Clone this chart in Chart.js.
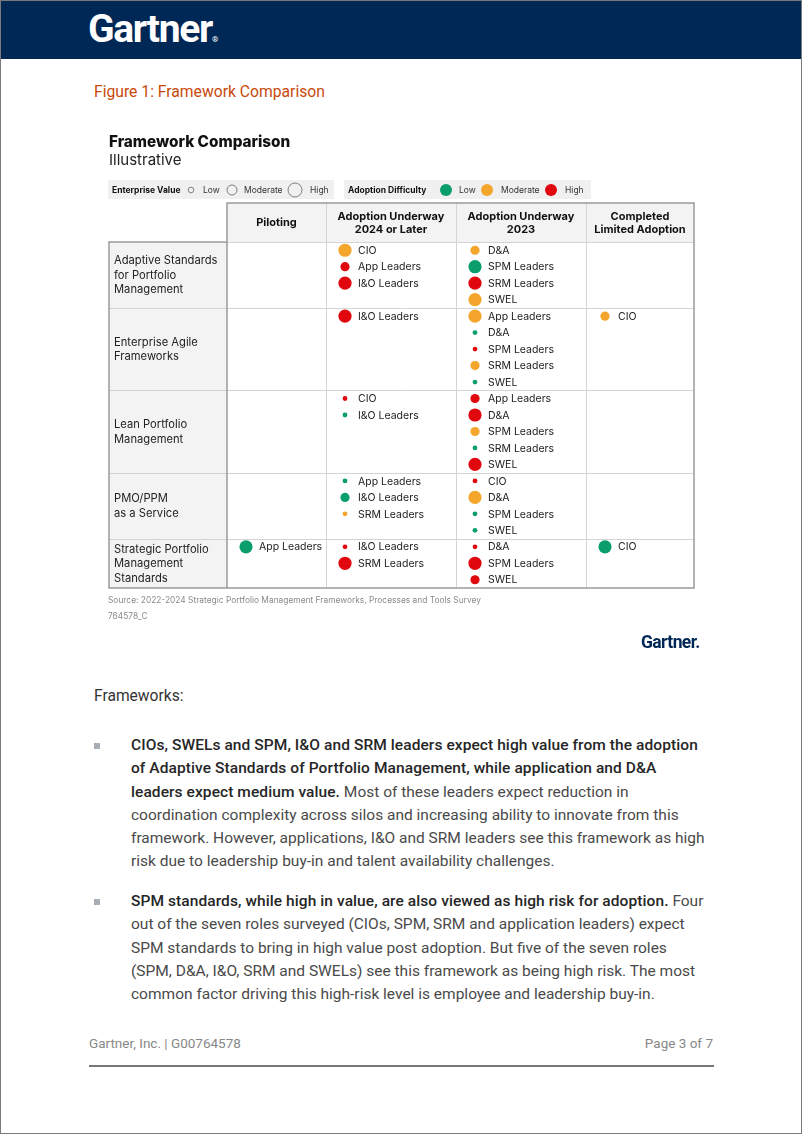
<!DOCTYPE html>
<html>
<head>
<meta charset="utf-8">
<script src="https://cdn.jsdelivr.net/npm/chart.js@4.4.1/dist/chart.umd.min.js"></script>
<style>
  html, body { margin: 0; padding: 0; background: #fff; }
  #page {
    position: relative; width: 802px; height: 1134px; box-sizing: border-box;
    border: 1px solid #7a7a7a; overflow: hidden; font-family: Roboto, sans-serif;
  }
  #band { position: absolute; left: 0; top: 0; width: 100%; height: 58px; background: #002856; }
  #logo {
    position: absolute; left: 87px; top: 5px; color: #fff; font: 700 39px Roboto, sans-serif;
    letter-spacing: -1.3px;
  }
  #logo span { font-size: 8px; letter-spacing: 0; }
  #caption { position: absolute; left: 93px; top: 81px; color: #c9490c; font-size: 15.7px; }
  #chartBox { position: absolute; left: 100px; top: 125px; }
  #logo2 {
    position: absolute; left: 640px; top: 631px; color: #002856; font: 700 17.5px Roboto, sans-serif;
    letter-spacing: -0.6px;
  }
  #fw { position: absolute; left: 93px; top: 686px; color: #333; font-size: 15.6px; }
  .bullet { position: absolute; left: 130px; width: 600px; font-size: 15.5px; line-height: 23.3px; color: #4a4a4a; }
  .bullet b { font-weight: 500; color: #262626; letter-spacing: 0.08px; }
  .sq { position: absolute; left: 93px; width: 6px; height: 6px; background: #a9adb4; }
  #foot1 { position: absolute; left: 88px; top: 1034px; color: #888; font-size: 13.5px; }
  #foot2 { position: absolute; right: 88px; top: 1034px; color: #888; font-size: 13.5px; }
  #rule { position: absolute; left: 88px; top: 1064px; width: 625px; height: 2px; background: #777; }
</style>
</head>
<body>
<div id="page">
  <div id="band"></div>
  <div id="logo">Gartner<span>®</span></div>
  <div id="caption">Figure 1: Framework Comparison</div>
  <div id="chartBox"><canvas id="grafica" width="605" height="530"></canvas></div>
  <div id="logo2">Gartner.</div>
  <div id="fw">Frameworks:</div>

  <div class="sq" style="top:742px"></div>
  <div class="bullet" style="top:733px">
    <b>CIOs, SWELs and SPM, I&amp;O and SRM leaders expect high value from the adoption<br>
    of Adaptive Standards of Portfolio Management, while application and D&amp;A<br>
    leaders expect medium value.</b> Most of these leaders expect reduction in<br>
    coordination complexity across silos and increasing ability to innovate from this<br>
    framework. However, applications, I&amp;O and SRM leaders see this framework as high<br>
    risk due to leadership buy-in and talent availability challenges.
  </div>

  <div class="sq" style="top:898px"></div>
  <div class="bullet" style="top:889px">
    <b>SPM standards, while high in value, are also viewed as high risk for adoption.</b> Four<br>
    out of the seven roles surveyed (CIOs, SPM, SRM and application leaders) expect<br>
    SPM standards to bring in high value post adoption. But five of the seven roles<br>
    (SPM, D&amp;A, I&amp;O, SRM and SWELs) see this framework as being high risk. The most<br>
    common factor driving this high-risk level is employee and leadership buy-in.
  </div>

  <div id="foot1">Gartner, Inc. | G00764578</div>
  <div id="foot2">Page 3 of 7</div>
  <div id="rule"></div>
</div>

<script>
// datos
const frameworks = [
  ["Adaptive Standards", "for Portfolio", "Management"],
  ["Enterprise Agile", "Frameworks"],
  ["Lean Portfolio", "Management"],
  ["PMO/PPM", "as a Service"],
  ["Strategic Portfolio", "Management", "Standards"]
];
const stages = [
  ["Piloting"],
  ["Adoption Underway", "2024 or Later"],
  ["Adoption Underway", "2023"],
  ["Completed", "Limited Adoption"]
];
const valueLevels = ["Low", "Moderate", "High"];
const difficultyLevels = ["Low", "Moderate", "High"];

// framework, stage, role, enterprise value, adoption difficulty
const responses = [
  [0, 1, "CIO", "High", "Moderate"],
  [0, 1, "App Leaders", "Moderate", "High"],
  [0, 1, "I&O Leaders", "High", "High"],
  [0, 2, "D&A", "Moderate", "Moderate"],
  [0, 2, "SPM Leaders", "High", "Low"],
  [0, 2, "SRM Leaders", "High", "High"],
  [0, 2, "SWEL", "High", "Moderate"],
  [1, 1, "I&O Leaders", "High", "High"],
  [1, 2, "App Leaders", "High", "Moderate"],
  [1, 2, "D&A", "Low", "Low"],
  [1, 2, "SPM Leaders", "Low", "High"],
  [1, 2, "SRM Leaders", "Moderate", "Moderate"],
  [1, 2, "SWEL", "Low", "Low"],
  [1, 3, "CIO", "Moderate", "Moderate"],
  [2, 1, "CIO", "Low", "High"],
  [2, 1, "I&O Leaders", "Low", "Low"],
  [2, 2, "App Leaders", "Moderate", "High"],
  [2, 2, "D&A", "High", "High"],
  [2, 2, "SPM Leaders", "Moderate", "Moderate"],
  [2, 2, "SRM Leaders", "Low", "Low"],
  [2, 2, "SWEL", "High", "High"],
  [3, 1, "App Leaders", "Low", "Low"],
  [3, 1, "I&O Leaders", "Moderate", "Low"],
  [3, 1, "SRM Leaders", "Low", "Moderate"],
  [3, 2, "CIO", "Low", "High"],
  [3, 2, "D&A", "High", "Moderate"],
  [3, 2, "SPM Leaders", "Low", "Low"],
  [3, 2, "SWEL", "Low", "Low"],
  [4, 0, "App Leaders", "High", "Low"],
  [4, 1, "I&O Leaders", "Low", "High"],
  [4, 1, "SRM Leaders", "High", "High"],
  [4, 2, "D&A", "Low", "High"],
  [4, 2, "SPM Leaders", "High", "High"],
  [4, 2, "SWEL", "Moderate", "High"],
  [4, 3, "CIO", "High", "Low"]
];

// estilo y disposición
const difficultyColors = ["#0a9e6c", "#f3a62b", "#e0070f"];
const valueRadius = [2.4, 4.6, 6.6];
const colWidths = [99, 130, 130, 108];
const bubbleInset = 19;
const labelColW = 118;
const headerH = 39;
const FONT = "Inter, 'Noto Sans', sans-serif";

// filas: cada fila tan alta como su celda más llena
const cellCount = {};
responses.forEach(r => {
  const k = r[0] + "-" + r[1];
  cellCount[k] = (cellCount[k] || 0) + 1;
});
const rowLines = frameworks.map((f, i) =>
  Math.max(...stages.map((s, j) => cellCount[i + "-" + j] || 0)));
const rowStart = [];
rowLines.reduce((acc, n, i) => { rowStart[i] = acc; return acc + n; }, 0);
const totalLines = rowLines.reduce((a, b) => a + b, 0);
const colStart = [];
colWidths.reduce((acc, w, i) => { colStart[i] = acc; return acc + w; }, 0);
const totalWidth = colWidths.reduce((a, b) => a + b, 0);

const slot = {};
const datasets = difficultyLevels.map((d, di) => ({
  label: d,
  data: [],
  backgroundColor: difficultyColors[di],
  borderWidth: 0,
  hoverRadius: 0
}));
responses.forEach(([f, s, role, val, diff]) => {
  const k = f + "-" + s;
  const idx = slot[k] || 0;
  slot[k] = idx + 1;
  datasets[difficultyLevels.indexOf(diff)].data.push({
    x: colStart[s] + bubbleInset,
    y: rowStart[f] + idx + 0.5,
    r: valueRadius[valueLevels.indexOf(val)],
    role: role
  });
});

const tablePlugin = {
  id: "tabla",
  beforeDatasetsDraw(chart) {
    const { ctx, chartArea: ca, scales } = chart;
    const xs = scales.x, ys = scales.y;
    const L = ca.left - labelColW, T = ca.top - headerH;
    ctx.save();

    // título
    ctx.fillStyle = "#111";
    ctx.textBaseline = "alphabetic";
    ctx.font = "800 15.3px " + FONT;
    ctx.fillText("Framework Comparison", L, 21);
    ctx.font = "400 15px " + FONT;
    ctx.fillStyle = "#222";
    ctx.fillText("Illustrative", L, 39);

    // leyenda (posiciones fijas como en el original)
    const ly = 64;
    ctx.fillStyle = "#f0f0f0";
    ctx.fillRect(L - 1, 54, 226, 19);
    ctx.fillRect(L + 235, 54, 247, 19);
    ctx.textBaseline = "middle";
    ctx.font = "700 8.5px " + FONT;
    ctx.fillStyle = "#111";
    ctx.fillText("Enterprise Value", L + 3, ly);
    ctx.fillText("Adoption Difficulty", L + 239, ly);
    const valPos = [[82, 94], [123, 135], [186, 201]];
    valueLevels.forEach((v, i) => {
      ctx.beginPath();
      ctx.arc(L + valPos[i][0], ly, valueRadius[i] + 0.4, 0, Math.PI * 2);
      ctx.strokeStyle = "#666";
      ctx.lineWidth = 0.8;
      ctx.stroke();
      ctx.font = "400 8.5px " + FONT;
      ctx.fillStyle = "#333";
      ctx.fillText(v, L + valPos[i][1], ly);
    });
    const difPos = [[337, 350], [378, 392], [442, 456]];
    difficultyLevels.forEach((d, i) => {
      ctx.beginPath();
      ctx.arc(L + difPos[i][0], ly, 6, 0, Math.PI * 2);
      ctx.fillStyle = difficultyColors[i];
      ctx.fill();
      ctx.font = "400 8.5px " + FONT;
      ctx.fillStyle = "#333";
      ctx.fillText(d, L + difPos[i][1], ly);
    });

    // fondos
    ctx.fillStyle = "#f3f3f3";
    ctx.fillRect(ca.left, T, ca.right - ca.left, headerH);
    ctx.fillRect(L, ca.top, labelColW, ca.bottom - ca.top);

    // líneas internas
    ctx.strokeStyle = "#d4d4d4";
    ctx.lineWidth = 1;
    ctx.beginPath();
    colStart.slice(1).forEach(c => {
      const x = Math.round(xs.getPixelForValue(c)) + 0.5;
      ctx.moveTo(x, T); ctx.lineTo(x, ca.bottom);
    });
    rowStart.slice(1).forEach(r => {
      const y = Math.round(ys.getPixelForValue(r)) + 0.5;
      ctx.moveTo(L, y); ctx.lineTo(ca.right, y);
    });
    ctx.moveTo(ca.left, ca.top + 0.5); ctx.lineTo(ca.right, ca.top + 0.5);
    ctx.stroke();

    // borde exterior
    ctx.strokeStyle = "#9a9a9a";
    ctx.lineWidth = 1.5;
    ctx.beginPath();
    ctx.moveTo(ca.left, T); ctx.lineTo(ca.right, T);
    ctx.lineTo(ca.right, ca.bottom); ctx.lineTo(L, ca.bottom);
    ctx.lineTo(L, ca.top); ctx.lineTo(ca.left, ca.top);
    ctx.closePath();
    ctx.moveTo(ca.left, T); ctx.lineTo(ca.left, ca.bottom);
    ctx.stroke();

    // cabeceras
    ctx.fillStyle = "#111";
    ctx.font = "700 11px " + FONT;
    ctx.textAlign = "center";
    stages.forEach((lines, j) => {
      const x = (xs.getPixelForValue(colStart[j]) + xs.getPixelForValue(colStart[j] + colWidths[j])) / 2;
      const y0 = T + headerH / 2 + 0.5 - (lines.length - 1) * 13.5 / 2;
      lines.forEach((t, k) => ctx.fillText(t, x, y0 + k * 13.5));
    });

    // etiquetas de fila
    ctx.textAlign = "left";
    ctx.font = "400 11.2px " + FONT;
    ctx.fillStyle = "#222";
    frameworks.forEach((lines, i) => {
      const yc = (ys.getPixelForValue(rowStart[i]) + ys.getPixelForValue(rowStart[i] + rowLines[i])) / 2;
      const y0 = yc + 0.5 - (lines.length - 1) * 14.5 / 2;
      lines.forEach((t, k) => ctx.fillText(t, L + 5, y0 + k * 14.5));
    });

    // fuente
    ctx.font = "400 8.4px " + FONT;
    ctx.fillStyle = "#8a8a8a";
    ctx.fillText("Source: 2022-2024 Strategic Portfolio Management Frameworks, Processes and Tools Survey", L - 1, ca.bottom + 12);
    ctx.fillText("764578_C", L - 1, ca.bottom + 28);
    ctx.restore();
  },
  afterDatasetsDraw(chart) {
    const { ctx } = chart;
    ctx.save();
    ctx.font = "400 10.5px " + FONT;
    ctx.fillStyle = "#222";
    ctx.textBaseline = "middle";
    chart.data.datasets.forEach((ds, di) => {
      chart.getDatasetMeta(di).data.forEach((el, k) => {
        ctx.fillText(ds.data[k].role, el.x + 13, el.y + 0.5);
      });
    });
    ctx.restore();
  }
};

const ctx = document.getElementById("grafica").getContext("2d");
new Chart(ctx, {
  type: "bubble",
  data: { datasets: datasets },
  options: {
    responsive: false,
    animation: false,
    layout: { padding: { left: 126, top: 116, right: 12, bottom: 68 } },
    scales: {
      x: { type: "linear", display: false, min: 0, max: totalWidth },
      y: { type: "linear", display: false, min: 0, max: totalLines, reverse: true }
    },
    plugins: {
      legend: { display: false },
      tooltip: { enabled: false }
    }
  },
  plugins: [tablePlugin]
});
</script>
</body>
</html>
